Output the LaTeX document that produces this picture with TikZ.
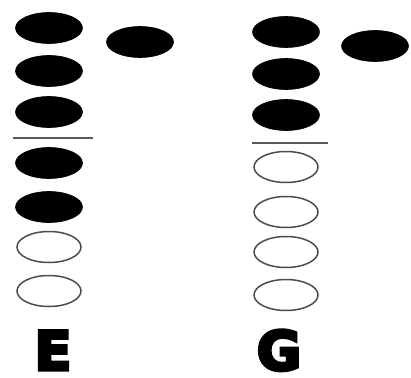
\documentclass[tikz,border=0pt]{standalone}
\usepackage{fontspec}
\newfontfamily\labelfont[FakeBold=6]{DejaVu Sans Bold}
\usetikzlibrary{shapes.geometric}
\tikzset{
  full/.style={ellipse,fill=black,draw=black,line width=0.6pt,minimum width=67pt,minimum height=31pt,inner sep=0pt},
  empty/.style={ellipse,fill=white,draw=gray!60!black,line width=1.5pt,minimum width=64pt,minimum height=31pt,inner sep=0pt},
  bar/.style={draw=gray!70!black,line width=1.5pt},
  lbl/.style={font=\labelfont\fontsize{54}{54}\selectfont,inner sep=0pt,anchor=base}
}
\begin{document}
\begin{tikzpicture}[x=1pt,y=-1pt]
\useasboundingbox (0,0) rectangle (411,377);
% left group E
\node[full] (e1) at (49,28) {};
\node[full] (e2) at (49,71) {};
\node[full] (e3) at (49,112) {};
\node[full] (e4) at (49,163) {};
\node[full] (e5) at (49,207) {};
\node[empty] (e6) at (49,247) {};
\node[empty] (e7) at (49,291) {};
\node[full] (es) at (140,42) {};
\coordinate (ela) at (13,138);
\coordinate (elb) at (93,138);
\draw[bar] (ela) -- (elb);
\node[lbl] (le) at (53,370) {E};
% right group G
\node[full] (g1) at (286,32) {};
\node[full] (g2) at (286,74) {};
\node[full] (g3) at (286,115) {};
\node[empty] (g4) at (286,167) {};
\node[empty] (g5) at (286,212) {};
\node[empty] (g6) at (286,252) {};
\node[empty] (g7) at (286,295) {};
\node[full] (gs) at (375,46) {};
\coordinate (gla) at (252,143);
\coordinate (glb) at (328,143);
\draw[bar] (gla) -- (glb);
\node[lbl] (lg) at (279,370) {G};
\end{tikzpicture}
\end{document}
